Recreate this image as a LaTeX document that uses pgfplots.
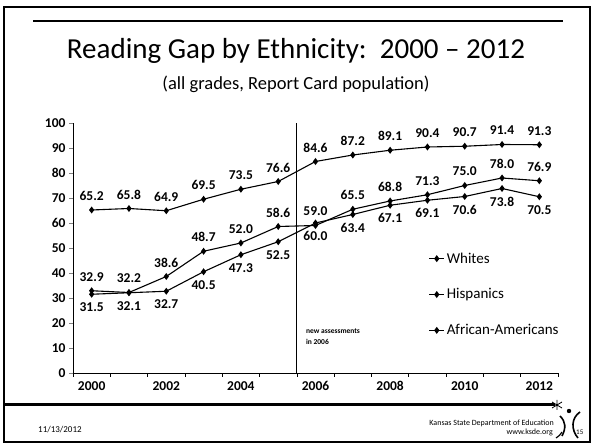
\documentclass[border=0pt]{standalone}
\usepackage{pgfplots}
\pgfplotsset{compat=1.18}
\usepackage{fontspec}
\setmainfont{Carlito}
\begin{document}
\begin{tikzpicture}[x=1pt,y=1pt]
\path[use as bounding box] (0,0) rectangle (593,446);
% slide frame
\draw[line width=1.5pt] (4,4) rectangle (590,439);
\draw[line width=1.2pt] (33,425) -- (563,425);
\node[anchor=base,inner sep=0] at (296,387) {\fontsize{29}{29}\selectfont Reading Gap by Ethnicity:\ \ 2000 -- 2012};
\node[anchor=base,inner sep=0] at (296,356) {\fontsize{18.5}{18.5}\selectfont (all grades, Report Card population)};
\draw[line width=3pt] (4,41) -- (555,41);
\node[anchor=west,inner sep=0] at (38,16) {\fontsize{9}{9}\selectfont 11/13/2012};
\node[anchor=east,inner sep=0] at (554,23) {\fontsize{8}{8}\selectfont Kansas State Department of Education};
\node[anchor=east,inner sep=0] at (553,14) {\fontsize{8}{8}\selectfont www.ksde.org};
\node[anchor=west,inner sep=0] at (576,14) {\fontsize{7}{7}\selectfont 15};
% simple logo
\draw[line width=0.8pt] (552,44) -- (562,38) (557,46) -- (557,36) (552,38) -- (562,44);
\fill (569,35) circle (2.2);
\draw[line width=1.6pt] (560,30) .. controls (566,24) and (566,18) .. (562,10);
\draw[line width=1.6pt] (580,34) .. controls (571,28) and (571,16) .. (578,8);
\draw[line width=1.2pt] (556,8) .. controls (559,10) and (561,12) .. (562,14);
\begin{axis}[
  at={(73pt,73pt)}, anchor=south west,
  scale only axis, width=485pt, height=250pt,
  xmin=1999.5, xmax=2012.5, ymin=0, ymax=100,
  axis x line*=bottom, axis y line*=left,
  axis line style={line width=0.8pt,-},
  xtick={2000,2002,...,2012},
  minor xtick={1999.5,2000.5,...,2012.5},
  ytick={0,10,...,100},
  tick align=outside,
  major tick length=4pt, minor tick length=4pt,
  x tick style={draw=none},
  minor x tick style={draw=black,line width=0.6pt},
  y tick style={line width=0.6pt},
  /pgf/number format/1000 sep={},
  /pgf/number format/assume math mode=true,
  ticklabel style={font=\bfseries\fontsize{13.5}{13.5}\selectfont},
  xticklabel style={yshift=-1pt},
  every axis plot/.append style={line width=1.1pt, black, mark=diamond*, mark size=2.6pt,
     mark options={solid}},
  nodes near coords={\pgfmathprintnumber[fixed,fixed zerofill,precision=1]{\pgfplotspointmeta}},
  every node near coord/.append style={font=\bfseries\fontsize{13.5}{13.5}\selectfont, anchor=center, black},
  legend cell align=left,
  legend style={draw=none, fill=none, at={(0.733,0.49)}, anchor=north west,
     font=\fontsize{15}{15}\selectfont, row sep=20pt, inner sep=0pt},
  legend image code/.code={\draw[mark repeat=2,mark phase=2] plot coordinates {(0pt,0pt) (7.5pt,0pt) (15pt,0pt)};},
]
\addplot[every node near coord/.append style={yshift=14pt}] coordinates {
(2000,65.2) (2001,65.8) (2002,64.9) (2003,69.5) (2004,73.5) (2005,76.6) (2006,84.6)
(2007,87.2) (2008,89.1) (2009,90.4) (2010,90.7) (2011,91.4) (2012,91.3)};
\addlegendentry{Whites}
\addplot[every node near coord/.append style={yshift=14pt}] coordinates {
(2000,32.9) (2001,32.2) (2002,38.6) (2003,48.7) (2004,52.0) (2005,58.6) (2006,59.0)
(2007,65.5) (2008,68.8) (2009,71.3) (2010,75.0) (2011,78.0) (2012,76.9)};
\addlegendentry{Hispanics}
\addplot[every node near coord/.append style={yshift=-13pt}] coordinates {
(2000,31.5) (2001,32.1) (2002,32.7) (2003,40.5) (2004,47.3) (2005,52.5) (2006,60.0)
(2007,63.4) (2008,67.1) (2009,69.1) (2010,70.6) (2011,73.8) (2012,70.5)};
\addlegendentry{African-Americans}
\draw[line width=0.8pt] (axis cs:2005.5,0) -- (axis cs:2005.5,100);
\node[anchor=west,inner sep=0,align=left,font=\bfseries\fontsize{7.5}{11}\selectfont] at (axis cs:2005.5,14.4) [xshift=9pt] {new assessments\\in 2006};
\end{axis}
\end{tikzpicture}
\end{document}
